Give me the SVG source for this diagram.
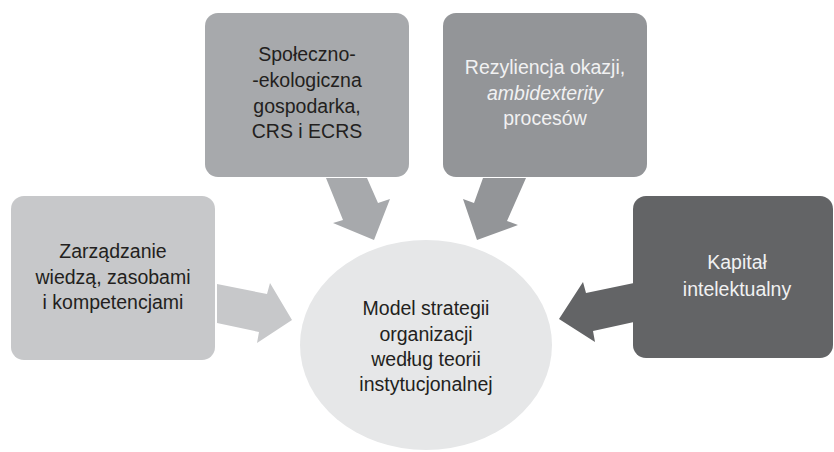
<svg xmlns="http://www.w3.org/2000/svg" width="834" height="452" viewBox="0 0 834 452">
<style>
.t{font-family:"Liberation Sans",Arial,sans-serif;font-size:19.5px;text-anchor:middle;fill:#231f20}
.w{fill:#f1f1f2}
</style>
<rect width="834" height="452" fill="#ffffff"/>
<g id="connectors">
<polygon fill="#c7c8ca" points="217,284 267,294 270,283 292,320 257,343 259,332 217,323"/>
<polygon fill="#a7a9ac" points="326,178 367,178 378,203 390,199 374,240 333,223 343,220"/>
<polygon fill="#939598" points="483,178 526,178 507,221 518,225 477,240 463,199 474,203"/>
<polygon fill="#636466" points="634,283 586,293 583,282 559,319 595,342 593,331 634,322"/>
</g>
<g id="node-left">
<rect x="11" y="196" width="204" height="164" rx="13" fill="#c7c8ca"/>
<text class="t" x="113" y="258">Zarządzanie</text>
<text class="t" x="113" y="283.5">wiedzą, zasobami</text>
<text class="t" x="113" y="309">i kompetencjami</text>
</g>
<g id="node-top-left">
<rect x="205" y="13" width="204" height="164" rx="13" fill="#a7a9ac"/>
<text class="t" x="307" y="61">Społeczno-</text>
<text class="t" x="307" y="87">-ekologiczna</text>
<text class="t" x="307" y="112.5">gospodarka,</text>
<text class="t" x="307" y="138">CRS i ECRS</text>
</g>
<g id="node-top-right">
<rect x="443" y="13" width="204" height="164" rx="13" fill="#939598"/>
<text class="t w" x="545" y="74">Rezyliencja okazji,</text>
<text class="t w" x="545" y="99.5" font-style="italic">ambidexterity</text>
<text class="t w" x="545" y="125">procesów</text>
</g>
<g id="node-right">
<rect x="633" y="196" width="200" height="162" rx="13" fill="#636466"/>
<text class="t w" x="737" y="269">Kapitał</text>
<text class="t w" x="737" y="296">intelektualny</text>
</g>
<g id="node-center">
<ellipse cx="426" cy="345" rx="126" ry="105" fill="#e6e7e8"/>
<text class="t" x="426" y="315">Model strategii</text>
<text class="t" x="426" y="340.5">organizacji</text>
<text class="t" x="426" y="366">według teorii</text>
<text class="t" x="426" y="391">instytucjonalnej</text>
</g>
</svg>
